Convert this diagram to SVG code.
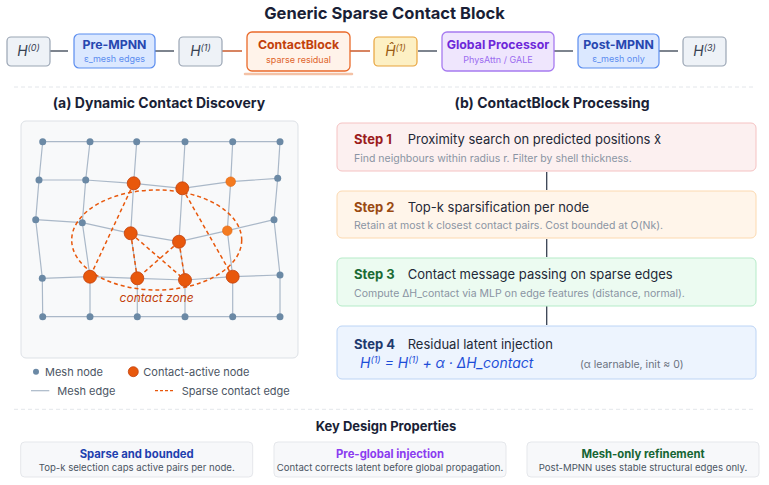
<svg xmlns="http://www.w3.org/2000/svg" width="769" height="485" viewBox="0 0 769 485">
<style>
text{font-family:Inter,"Noto Sans","Liberation Sans",sans-serif}
.title{font-size:16.5px;font-weight:700;fill:#1a1f36}
.h2{font-size:14px;font-weight:700;fill:#1a1f36}
.hnode{fill:#eef2f7;stroke:#9aa5b4;stroke-width:1.2}
.hl{font-size:14px;font-style:italic;fill:#374151}
.sup{font-size:9px}
.nt{font-size:12.3px;font-weight:700}
.ns{font-size:9px}
.conn{stroke:#374151;stroke-width:1.3}
.connO{stroke:#c2410c;stroke-width:1.3}
.mesh{fill:none;stroke:#aab8c8;stroke-width:1.2}
.mn{fill:#6b89a5}
.ca{fill:#e8580c;stroke:#c2410c;stroke-width:0.8}
.cs{fill:#f47b20;stroke:#e0650e;stroke-width:0.6}
.ce{stroke:#e8580c;stroke-width:1.5;stroke-dasharray:4 3;fill:none}
.st{font-size:13px;font-weight:700}
.sh{font-size:13px;fill:#1f2937}
.sd{font-size:10.5px;fill:#8a94a3}
.leg{font-size:11px;fill:#4b5563}
.sep{stroke:#e3e6ea;stroke-width:1;stroke-dasharray:4 3}
.card{fill:#f7f8fa;stroke:#e5e7eb;stroke-width:1}
.ct{font-size:11.3px;font-weight:700}
.cd{font-size:9.6px;fill:#4b5563}
</style>

<text class="title" x="384.5" y="19" text-anchor="middle">Generic Sparse Contact Block</text>

<g id="connectors">
  <line class="conn" x1="50" y1="51" x2="68" y2="51"/>
  <line class="conn" x1="155" y1="51" x2="174" y2="51"/>
  <line class="connO" x1="222" y1="51" x2="242" y2="51"/>
  <line class="connO" x1="350" y1="51" x2="370" y2="51"/>
  <line class="conn" x1="418" y1="51" x2="437" y2="51"/>
  <line class="conn" x1="554" y1="51" x2="573" y2="51"/>
  <line class="conn" x1="659" y1="51" x2="678" y2="51"/>
  <line class="conn" x1="546.7" y1="172" x2="546.7" y2="190"/>
  <line class="conn" x1="546.7" y1="239" x2="546.7" y2="257"/>
  <line class="conn" x1="546.7" y1="306" x2="546.7" y2="325"/>
</g>

<g id="h0">
  <rect class="hnode" x="7" y="37" width="43" height="29" rx="4"/>
  <text class="hl" x="28.5" y="56" text-anchor="middle">H<tspan class="sup" dy="-5">(0)</tspan></text>
</g>
<g id="pre-mpnn">
  <rect x="74" y="34" width="81" height="34" rx="5" fill="#dbe8ff" stroke="#5b8def" stroke-width="1.2"/>
  <text class="nt" x="114.5" y="49" text-anchor="middle" fill="#2747b0">Pre-MPNN</text>
  <text class="ns" x="114.5" y="62" text-anchor="middle" fill="#5b8def">ε_mesh edges</text>
</g>
<g id="h1">
  <rect class="hnode" x="179" y="37" width="43" height="29" rx="4"/>
  <text class="hl" x="200.5" y="56" text-anchor="middle">H<tspan class="sup" dy="-5">(1)</tspan></text>
</g>
<g id="contactblock">
  <rect x="247" y="32" width="103" height="39" rx="5" fill="#fff3ea" stroke="#ea6a2a" stroke-width="1.3"/>
  <text class="nt" x="298.5" y="49" text-anchor="middle" fill="#c2410c">ContactBlock</text>
  <text class="ns" x="298.5" y="63" text-anchor="middle" fill="#e0652a">sparse residual</text>
  <line x1="245" y1="74" x2="352" y2="74" stroke="#f4c2a6" stroke-width="2.5" stroke-linecap="round"/>
</g>
<g id="h1hat">
  <rect x="374" y="37" width="43" height="29" rx="4" fill="#fdf0c4" stroke="#e8a33d" stroke-width="1.2"/>
  <text class="hl" x="395.5" y="56" text-anchor="middle" style="fill:#9a5b13">Ĥ<tspan class="sup" dy="-5">(1)</tspan></text>
</g>
<g id="global">
  <rect x="442" y="32" width="112" height="39" rx="5" fill="#efe6fd" stroke="#a77bf0" stroke-width="1.3"/>
  <text class="nt" x="498" y="49" text-anchor="middle" fill="#6d28d9">Global Processor</text>
  <text class="ns" x="498" y="63" text-anchor="middle" fill="#9b6bf0">PhysAttn / GALE</text>
</g>
<g id="post-mpnn">
  <rect x="578" y="34" width="81" height="34" rx="5" fill="#dbe8ff" stroke="#5b8def" stroke-width="1.2"/>
  <text class="nt" x="618.5" y="49" text-anchor="middle" fill="#2747b0">Post-MPNN</text>
  <text class="ns" x="618.5" y="62" text-anchor="middle" fill="#5b8def">ε_mesh only</text>
</g>
<g id="h3">
  <rect class="hnode" x="683" y="37" width="43" height="29" rx="4"/>
  <text class="hl" x="704.5" y="56" text-anchor="middle">H<tspan class="sup" dy="-5">(3)</tspan></text>
</g>

<line class="sep" x1="14" y1="87" x2="756" y2="87"/>

<!-- (a) -->
<text class="h2" x="159" y="108" text-anchor="middle">(a) Dynamic Contact Discovery</text>
<g id="panel-a">
  <rect x="21" y="121" width="277" height="237" rx="5" fill="#f8f9fa" stroke="#dde1e6" stroke-width="1"/>
  <g id="mesh-edges">
    <polyline class="mesh" points="42.7,141.7 90,141.7 136.7,141.7 185,141.7 232.7,141.7 280,141.7"/>
    <polyline class="mesh" points="39,180 85.7,180 133.7,183.3 182.3,188.3 230.7,181.7 277.7,178.3"/>
    <polyline class="mesh" points="35.7,219.7 82.3,222.7 130.7,233.3 179,241.7 227.3,230.7 274,219.7"/>
    <polyline class="mesh" points="42.3,278.3 90,276.7 137.3,278.3 185,280 232.7,276.7 280,275"/>
    <polyline class="mesh" points="42.7,316.7 90,316.7 137.3,316.7 185,316.7 232.7,316.7 280,316.7"/>
    <polyline class="mesh" points="42.7,141.7 39,180 35.7,219.7 42.3,278.3 42.7,316.7"/>
    <polyline class="mesh" points="90,141.7 85.7,180 82.3,222.7 90,276.7 90,316.7"/>
    <polyline class="mesh" points="136.7,141.7 133.7,183.3 130.7,233.3 137.3,278.3 137.3,316.7"/>
    <polyline class="mesh" points="185,141.7 182.3,188.3 179,241.7 185,280 185,316.7"/>
    <polyline class="mesh" points="232.7,141.7 230.7,181.7 227.3,230.7 232.7,276.7 232.7,316.7"/>
    <polyline class="mesh" points="280,141.7 277.7,178.3 274,219.7 280,275 280,316.7"/>
  </g>
  <ellipse class="ce" cx="156.7" cy="240" rx="85" ry="50" stroke-width="1.2"/>
  <g id="contact-edges">
    <line class="ce" x1="133.7" y1="183.3" x2="90" y2="276.7"/>
    <line class="ce" x1="182.3" y1="188.3" x2="232.7" y2="276.7"/>
    <line class="ce" x1="130.7" y1="233.3" x2="137.3" y2="278.3"/>
    <line class="ce" x1="130.7" y1="233.3" x2="185" y2="280"/>
    <line class="ce" x1="179" y1="241.7" x2="137.3" y2="278.3"/>
    <line class="ce" x1="179" y1="241.7" x2="185" y2="280"/>
  </g>
  <g id="mesh-nodes">
    <circle class="mn" cx="42.7" cy="141.7" r="3.5"/><circle class="mn" cx="90" cy="141.7" r="3.5"/><circle class="mn" cx="136.7" cy="141.7" r="3.5"/><circle class="mn" cx="185" cy="141.7" r="3.5"/><circle class="mn" cx="232.7" cy="141.7" r="3.5"/><circle class="mn" cx="280" cy="141.7" r="3.5"/>
    <circle class="mn" cx="39" cy="180" r="3.5"/><circle class="mn" cx="85.7" cy="180" r="3.5"/><circle class="mn" cx="277.7" cy="178.3" r="3.5"/>
    <circle class="mn" cx="35.7" cy="219.7" r="3.5"/><circle class="mn" cx="82.3" cy="222.7" r="3.5"/><circle class="mn" cx="274" cy="219.7" r="3.5"/>
    <circle class="mn" cx="42.3" cy="278.3" r="3.5"/><circle class="mn" cx="280" cy="275" r="3.5"/>
    <circle class="mn" cx="42.7" cy="316.7" r="3.5"/><circle class="mn" cx="90" cy="316.7" r="3.5"/><circle class="mn" cx="137.3" cy="316.7" r="3.5"/><circle class="mn" cx="185" cy="316.7" r="3.5"/><circle class="mn" cx="232.7" cy="316.7" r="3.5"/><circle class="mn" cx="280" cy="316.7" r="3.5"/>
  </g>
  <g id="contact-nodes">
    <circle class="ca" cx="133.7" cy="183.3" r="6.5"/>
    <circle class="ca" cx="182.3" cy="188.3" r="6.5"/>
    <circle class="ca" cx="130.7" cy="233.3" r="6.5"/>
    <circle class="ca" cx="179" cy="241.7" r="6.5"/>
    <circle class="ca" cx="90" cy="276.7" r="6.5"/>
    <circle class="ca" cx="137.3" cy="278.3" r="6.5"/>
    <circle class="ca" cx="185" cy="280" r="6.5"/>
    <circle class="ca" cx="232.7" cy="276.7" r="6.5"/>
    <circle class="cs" cx="230.7" cy="181.7" r="4.8"/>
    <circle class="cs" cx="227.3" cy="230.7" r="4.8"/>
  </g>
  <text x="156.7" y="302" text-anchor="middle" font-size="12" font-style="italic" fill="#c2410c">contact zone</text>
</g>

<g id="legend">
  <circle class="mn" cx="36" cy="371.7" r="3"/>
  <text class="leg" x="45" y="375.5">Mesh node</text>
  <circle class="ca" cx="133.3" cy="371.7" r="5"/>
  <text class="leg" x="143.3" y="375.5">Contact-active node</text>
  <line x1="31" y1="390.7" x2="49.3" y2="390.7" stroke="#aab8c8" stroke-width="1.2"/>
  <text class="leg" x="57.3" y="394.5">Mesh edge</text>
  <line x1="155" y1="390.7" x2="174" y2="390.7" stroke="#e8580c" stroke-width="1.2" stroke-dasharray="3 2"/>
  <text class="leg" x="181.7" y="394.5">Sparse contact edge</text>
</g>

<!-- (b) -->
<text class="h2" x="552" y="108" text-anchor="middle">(b) ContactBlock Processing</text>
<g id="step1">
  <rect x="337" y="123" width="419" height="48" rx="5" fill="#fcf0f0" stroke="#f5c2c2" stroke-width="1"/>
  <text class="st" x="354" y="144.3" fill="#9b1c1c">Step 1</text>
  <text class="sh" x="407.7" y="144.3">Proximity search on predicted positions x̂</text>
  <text class="sd" x="354" y="162.3">Find neighbours within radius r. Filter by shell thickness.</text>
</g>
<g id="step2">
  <rect x="337" y="191" width="419" height="47" rx="5" fill="#fff5ea" stroke="#fcd9b0" stroke-width="1"/>
  <text class="st" x="354" y="211.7" fill="#9a4a12">Step 2</text>
  <text class="sh" x="407.7" y="211.7">Top-k sparsification per node</text>
  <text class="sd" x="354" y="229">Retain at most k closest contact pairs. Cost bounded at O(Nk).</text>
</g>
<g id="step3">
  <rect x="337" y="258" width="419" height="48" rx="5" fill="#ecfbf1" stroke="#b5ebc8" stroke-width="1"/>
  <text class="st" x="354" y="279" fill="#1b6b35">Step 3</text>
  <text class="sh" x="407.7" y="279">Contact message passing on sparse edges</text>
  <text class="sd" x="354" y="296.7">Compute ΔH_contact via MLP on edge features (distance, normal).</text>
</g>
<g id="step4">
  <rect x="337" y="326" width="419" height="53" rx="5" fill="#edf4fe" stroke="#bcd4f5" stroke-width="1"/>
  <text class="st" x="354" y="349" fill="#1e3a6e">Step 4</text>
  <text class="sh" x="407.7" y="349">Residual latent injection</text>
  <text x="360" y="368.3" font-size="14" font-style="italic" fill="#1d4ed8">H<tspan font-size="9" dy="-5">(1)</tspan><tspan dy="5"> = H</tspan><tspan font-size="9" dy="-5">(1)</tspan><tspan dy="5"> + α · ΔH_contact</tspan></text>
  <text class="sd" x="580" y="368.3" style="fill:#6b7280">(α learnable, init ≈ 0)</text>
</g>

<line class="sep" x1="14" y1="409.3" x2="756" y2="409.3"/>

<text x="386" y="431" text-anchor="middle" font-size="13" font-weight="700" fill="#1a1f36">Key Design Properties</text>
<g id="card1">
  <rect class="card" x="20.7" y="442" width="232" height="35" rx="4"/>
  <text class="ct" x="136.7" y="457.7" text-anchor="middle" fill="#1e40af">Sparse and bounded</text>
  <text class="cd" x="136.7" y="470.7" text-anchor="middle">Top-k selection caps active pairs per node.</text>
</g>
<g id="card2">
  <rect class="card" x="274" y="442" width="232" height="35" rx="4"/>
  <text class="ct" x="390" y="457.7" text-anchor="middle" fill="#8b3cf0">Pre-global injection</text>
  <text class="cd" x="390" y="470.7" text-anchor="middle">Contact corrects latent before global propagation.</text>
</g>
<g id="card3">
  <rect class="card" x="527" y="442" width="232" height="35" rx="4"/>
  <text class="ct" x="643" y="457.7" text-anchor="middle" fill="#166534">Mesh-only refinement</text>
  <text class="cd" x="643" y="470.7" text-anchor="middle">Post-MPNN uses stable structural edges only.</text>
</g>
</svg>
